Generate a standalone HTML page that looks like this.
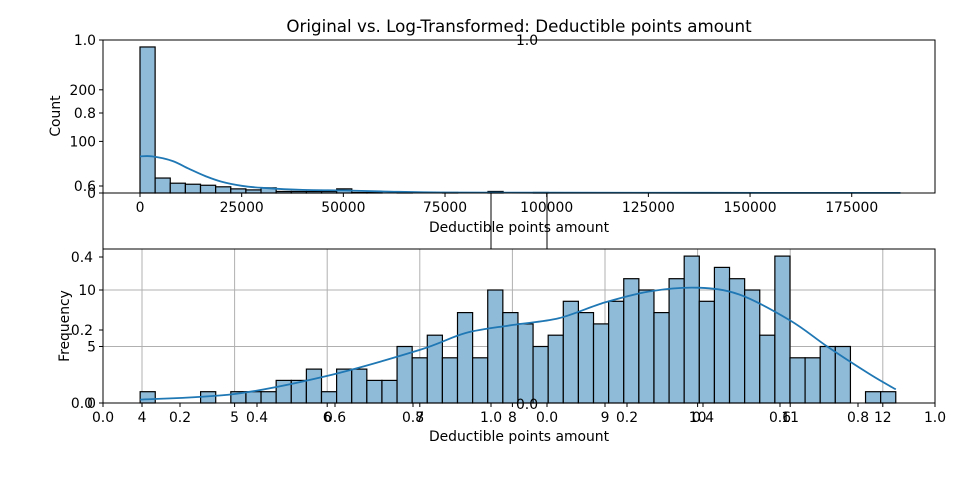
<!DOCTYPE html>
<html><head><meta charset="utf-8"><style>
body{margin:0;background:#fff}
svg{display:block;font-family:"DejaVu Sans","Liberation Sans",sans-serif}
</style></head><body>
<svg id="fig" width="960" height="480" viewBox="0 0 960 480" xmlns="http://www.w3.org/2000/svg">
<rect x="0" y="0" width="960" height="480" fill="#fff"/>
<text x="519" y="32" font-size="16.7" text-anchor="middle">Original vs. Log-Transformed: Deductible points amount</text>
<g id="topAx"></g>
<g id="botAx"></g>
</svg>
<script>
// ---- top histogram data (raw) ----
const topBinStart = 0;
const topBinWidth = 3720;
const topCounts = [283,29,19,17,15,12,8,6,10,3,3,3,3,8,1,1,0,1,0,0,1,0,0,3,0,0,1,0,0,0,0,0,0,0,0,0,0,0,0,0,0,0,0,0,0,0,0,0,0,0];
const topKdeX = [0,3000,8000,12000,16000,20000,25000,30000,40000,50000,60000,75000,100000,140000,187000];
const topKdeY = [71,71,62,47,33,22,14,10,6,5,3,1,0.5,0.3,0.2];
const topXTicks = [0,25000,50000,75000,100000,125000,150000,175000];
const topYTicks = [0,100,200];
// ---- bottom histogram data (log) ----
const botBinStart = 3.98;
const botBinWidth = 0.1632;
const botCounts = [1,0,0,0,1,0,1,1,1,2,2,3,1,3,3,2,2,5,4,6,4,8,4,10,8,7,5,6,9,8,7,9,11,10,8,11,13,9,12,11,10,6,13,4,4,5,5,0,1,1];
const botKdeX = [3.98,5,6,7,7.5,8,8.5,9,9.5,10,10.45,11,11.4,11.85,12.14];
const botKdeY = [0.3,0.8,2.4,4.7,6.2,6.9,7.5,8.9,9.9,10.2,9.6,7.3,5,2.6,1.2];
const botXTicks = [4,5,6,7,8,9,10,11,12];
const botYTicks = [0,5,10];

const NS="http://www.w3.org/2000/svg";
const FS=13.9;
function mk(parent,tag,attrs,text){const e=document.createElementNS(NS,tag);for(const k in attrs)e.setAttribute(k,attrs[k]);if(text!==undefined)e.textContent=text;parent.appendChild(e);return e;}
function smooth(pts){let s='M'+pts[0][0].toFixed(1)+','+pts[0][1].toFixed(1);
 for(let i=0;i<pts.length-1;i++){const p0=pts[i-1]||pts[i],p1=pts[i],p2=pts[i+1],p3=pts[i+2]||p2;
  const c1=[p1[0]+(p2[0]-p0[0])/6,p1[1]+(p2[1]-p0[1])/6],c2=[p2[0]-(p3[0]-p1[0])/6,p2[1]-(p3[1]-p1[1])/6];
  s+=`C${c1[0].toFixed(1)},${c1[1].toFixed(1)} ${c2[0].toFixed(1)},${c2[1].toFixed(1)} ${p2[0].toFixed(1)},${p2[1].toFixed(1)}`;}
 return s;}

const L=103,R=935;
// top axes
const tx=v=>140+v*0.004067, ty=c=>193-c*0.516;
const gTop=document.getElementById('topAx');
topCounts.forEach((c,i)=>{if(c<=0)return;
 const x0=tx(topBinStart+i*topBinWidth),x1=tx(topBinStart+(i+1)*topBinWidth);
 const r=mk(gTop,'rect',{x:x0,y:ty(c),width:x1-x0,height:193-ty(c),fill:'#8fbbd9',stroke:'#000','stroke-width':1.2});
 
 });
const tk=mk(gTop,'path',{d:smooth(topKdeX.map((v,i)=>[tx(v),ty(topKdeY[i])])),fill:'none',stroke:'#1f77b4','stroke-width':1.8});


topXTicks.forEach(v=>{mk(gTop,'line',{x1:tx(v),x2:tx(v),y1:193,y2:197,stroke:'#000'});
 const t=mk(gTop,'text',{x:tx(v),y:212,'font-size':FS,'text-anchor':'middle'},String(v));
 
 });
topYTicks.forEach(v=>{mk(gTop,'line',{x1:99,x2:103,y1:ty(v),y2:ty(v),stroke:'#000'});
 const t=mk(gTop,'text',{x:96,y:ty(v)+5,'font-size':FS,'text-anchor':'end'},String(v));
 
 });
[[40,'1.0'],[113,'0.8'],[186,'0.6']].forEach(p=>{mk(gTop,'line',{x1:99,x2:103,y1:p[0],y2:p[0],stroke:'#000'});mk(gTop,'text',{x:96,y:p[0]+5,'font-size':FS,'text-anchor':'end'},p[1]);});
mk(gTop,'text',{x:527,y:45,'font-size':FS,'text-anchor':'middle'},'1.0');
mk(gTop,'rect',{x:L,y:40,width:R-L,height:153,fill:'none',stroke:'#000','stroke-width':1});
mk(gTop,'polyline',{points:`${L},193 ${L},249`,fill:'none',stroke:'#000'});
mk(gTop,'line',{x1:491,x2:491,y1:193,y2:249,stroke:'#000'});
mk(gTop,'line',{x1:547,x2:547,y1:193,y2:249,stroke:'#000'});
const cl=mk(gTop,'text',{x:60,y:116,'font-size':FS,'text-anchor':'middle',transform:'rotate(-90 60 116)'},'Count');

const xl=mk(gTop,'text',{x:519,y:232,'font-size':FS,'text-anchor':'middle'},'Deductible points amount');


// bottom axes
const bx=v=>142+(v-4)*92.6, by=c=>403-c*11.3;
const gBot=document.getElementById('botAx');
botXTicks.forEach(v=>mk(gBot,'line',{x1:bx(v),x2:bx(v),y1:249,y2:403,stroke:'#b0b0b0','stroke-width':1}));
botYTicks.forEach(v=>mk(gBot,'line',{x1:L,x2:R,y1:by(v),y2:by(v),stroke:'#b0b0b0','stroke-width':1}));
botCounts.forEach((c,i)=>{if(c<=0)return;
 const x0=bx(botBinStart+i*botBinWidth),x1=bx(botBinStart+(i+1)*botBinWidth);
 const r=mk(gBot,'rect',{x:x0,y:by(c),width:x1-x0,height:403-by(c),fill:'#8fbbd9',stroke:'#000','stroke-width':1.2});
 
 });
const bk=mk(gBot,'path',{d:smooth(botKdeX.map((v,i)=>[bx(v),by(botKdeY[i])])),fill:'none',stroke:'#1f77b4','stroke-width':1.8});


mk(gBot,'rect',{x:L,y:249,width:R-L,height:154,fill:'none',stroke:'#000','stroke-width':1});
botXTicks.forEach(v=>{mk(gBot,'line',{x1:bx(v),x2:bx(v),y1:403,y2:407,stroke:'#000'});
 const t=mk(gBot,'text',{x:bx(v),y:422,'font-size':FS,'text-anchor':'middle'},String(v));
 
 });
botYTicks.forEach(v=>{mk(gBot,'line',{x1:99,x2:103,y1:by(v),y2:by(v),stroke:'#000'});
 const t=mk(gBot,'text',{x:96,y:by(v)+5,'font-size':FS,'text-anchor':'end'},String(v));
 
 });
[[403,'0.0'],[330,'0.2'],[257,'0.4']].forEach(p=>{mk(gBot,'line',{x1:99,x2:103,y1:p[0],y2:p[0],stroke:'#000'});mk(gBot,'text',{x:93,y:p[0]+5,'font-size':FS,'text-anchor':'end'},p[1]);});
[[103,'0.0'],[180,'0.2'],[257,'0.4'],[335,'0.6'],[413,'0.8'],[491,'1.0'],[547,'0.0'],[627,'0.2'],[703,'0.4'],[780,'0.6'],[858,'0.8'],[935,'1.0']].forEach(p=>{
 mk(gBot,'line',{x1:p[0],x2:p[0],y1:403,y2:407,stroke:'#000'});mk(gBot,'text',{x:p[0],y:422,'font-size':FS,'text-anchor':'middle'},p[1]);});
mk(gBot,'text',{x:527,y:409,'font-size':FS,'text-anchor':'middle'},'0.0');
const fl=mk(gBot,'text',{x:69,y:326,'font-size':FS,'text-anchor':'middle',transform:'rotate(-90 69 326)'},'Frequency');

const bl=mk(gBot,'text',{x:519,y:441,'font-size':FS,'text-anchor':'middle'},'Deductible points amount');

</script>
</body></html>
